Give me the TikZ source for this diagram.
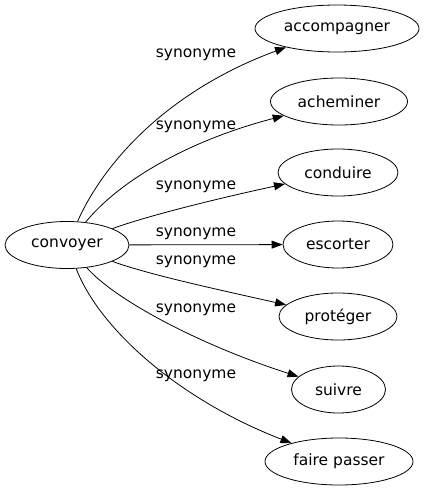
\documentclass[tikz,border=0pt]{standalone}
\usepackage{fontspec}
\setmainfont{DejaVu Sans}
\usetikzlibrary{shapes.geometric,arrows.meta}
\begin{document}
\begin{tikzpicture}[x=1pt,y=-1pt,
  word/.style={draw, ellipse, inner sep=0pt, line width=0.8pt, minimum height=47pt, font=\fontsize{15.5}{18}\selectfont},
  lbl/.style={inner sep=0pt, font=\fontsize{15.5}{18}\selectfont},
  link/.style={line width=0.8pt, -{Triangle[length=11pt,width=8pt]}}]
\useasboundingbox (0,0) rectangle (427,491);
\node[word, minimum width=124pt] (conv) at (67,245) {convoyer};
\node[word, minimum width=164pt] (acc) at (337,28.5) {accompagner};
\node[word, minimum width=137pt] (ach) at (339,101.5) {acheminer};
\node[word, minimum width=120pt] (cond) at (338,172.5) {conduire};
\node[word, minimum width=110pt] (esc) at (338,244.5) {escorter};
\node[word, minimum width=118pt] (prot) at (338,316.5) {protéger};
\node[word, minimum width=94pt] (suiv) at (338.5,389.5) {suivre};
\node[word, minimum width=148pt] (faire) at (339,461.5) {faire passer};
\node[lbl] (l1) at (196,55) {synonyme};
\node[lbl] (l2) at (196,127) {synonyme};
\node[lbl] (l3) at (196,187) {synonyme};
\node[lbl] (l4) at (196,234) {synonyme};
\node[lbl] (l5) at (196,262) {synonyme};
\node[lbl] (l6) at (196,310) {synonyme};
\node[lbl] (l7) at (196,376) {synonyme};
\draw[link] (conv) .. controls (105,160) and (170,90) .. (acc);
\draw[link] (conv) .. controls (120,180) and (190,140) .. (ach);
\draw[link] (conv) .. controls (150,215) and (220,198) .. (cond);
\draw[link] (conv) -- (esc);
\draw[link] (conv) .. controls (150,275) and (220,290) .. (prot);
\draw[link] (conv) .. controls (115,300) and (200,345) .. (suiv);
\draw[link] (conv) .. controls (100,330) and (180,400) .. (faire);
\end{tikzpicture}
\end{document}
